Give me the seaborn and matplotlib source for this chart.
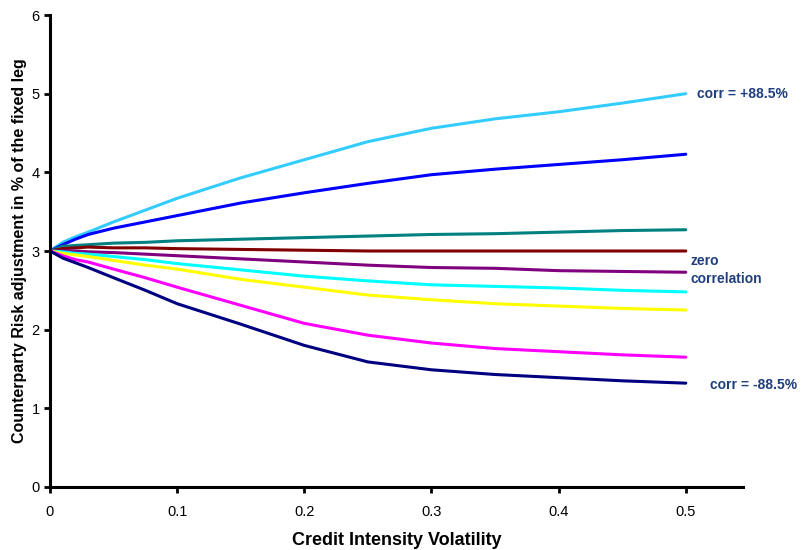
import numpy as np
import pandas as pd
import seaborn as sns
import matplotlib.pyplot as plt

# valeurs
vol = [0, 0.01, 0.02, 0.03, 0.05, 0.075, 0.1, 0.15, 0.2, 0.25, 0.3, 0.35, 0.4, 0.45, 0.5]

s1 = [3.0, 3.11, 3.18, 3.24, 3.37, 3.52, 3.67, 3.93, 4.16, 4.39, 4.56, 4.68, 4.77, 4.88, 5.00]
s2 = [3.0, 3.08, 3.15, 3.21, 3.29, 3.37, 3.45, 3.61, 3.74, 3.86, 3.97, 4.04, 4.10, 4.16, 4.23]
s3 = [3.0, 3.06, 3.07, 3.08, 3.10, 3.11, 3.13, 3.15, 3.17, 3.19, 3.21, 3.22, 3.24, 3.26, 3.27]
s4 = [3.0, 3.03, 3.04, 3.05, 3.04, 3.04, 3.03, 3.02, 3.01, 3.00, 3.00, 3.00, 3.00, 3.00, 3.00]
s5 = [3.0, 3.00, 3.00, 2.99, 2.98, 2.96, 2.94, 2.90, 2.86, 2.82, 2.79, 2.78, 2.75, 2.74, 2.73]
s6 = [3.0, 2.99, 2.97, 2.96, 2.93, 2.89, 2.84, 2.76, 2.68, 2.62, 2.57, 2.55, 2.53, 2.50, 2.48]
s7 = [3.0, 2.97, 2.95, 2.93, 2.88, 2.82, 2.77, 2.64, 2.54, 2.44, 2.38, 2.33, 2.30, 2.27, 2.25]
s8 = [3.0, 2.94, 2.89, 2.86, 2.77, 2.66, 2.54, 2.31, 2.08, 1.93, 1.83, 1.76, 1.72, 1.68, 1.65]
s9 = [3.0, 2.91, 2.85, 2.79, 2.66, 2.50, 2.33, 2.07, 1.80, 1.59, 1.49, 1.43, 1.39, 1.35, 1.32]

series = {"s1": s1, "s2": s2, "s3": s3, "s4": s4, "s5": s5,
          "s6": s6, "s7": s7, "s8": s8, "s9": s9}
couleurs = ["#33CCFF", "#0000FF", "#008080", "#800000", "#800080",
            "#00FFFF", "#FFFF00", "#FF00FF", "#000080"]

df = pd.DataFrame([(nom, x, y) for nom, ys in series.items() for x, y in zip(vol, ys)],
                  columns=["serie", "vol", "adj"])

sns.set_style("ticks")
plt.rcParams["font.family"] = ["Liberation Sans", "DejaVu Sans"]

fig = plt.figure(figsize=(8.04, 5.5), dpi=100)
ax = fig.add_axes([50 / 804, 1 - 487 / 550, 693 / 804, 472 / 550])

sns.lineplot(data=df, x="vol", y="adj", hue="serie", palette=couleurs,
             linewidth=2.2, legend=False, ax=ax)
for ln in ax.lines:
    ln.set_solid_joinstyle("round")

ax.set_xlim(0, 0.545)
ax.set_ylim(0, 6)
ax.set_xticks([0, 0.1, 0.2, 0.3, 0.4, 0.5])
ax.set_xticklabels(["0", "0.1", "0.2", "0.3", "0.4", "0.5"])
ax.set_yticks(range(7))
for s in ["top", "right"]:
    ax.spines[s].set_visible(False)
for s in ["left", "bottom"]:
    ax.spines[s].set_linewidth(2.2)
    ax.spines[s].set_color("black")
ax.tick_params(width=2, length=4, labelsize=10.5, colors="black")
ax.tick_params(axis="x", pad=9)

ax.set_xlabel("Credit Intensity Volatility", fontsize=13, fontweight="bold",
              labelpad=9, color="black")
ax.set_ylabel("Counterparty Risk adjustment in % of the fixed leg", fontsize=11.5,
              fontweight="bold", labelpad=3, color="black")

bleu = "#1F3F7F"
ax.text(0.509, 5.0, "corr = +88.5%", color=bleu, fontsize=10, fontweight="bold",
        va="center", ha="left", clip_on=False)
ax.text(0.504, 2.76, "zero\ncorrelation", color=bleu, fontsize=10, fontweight="bold",
        va="center", ha="left", linespacing=1.3, clip_on=False)
ax.text(0.519, 1.30, "corr = -88.5%", color=bleu, fontsize=10, fontweight="bold",
        va="center", ha="left", clip_on=False)

plt.savefig("out.png", dpi=100)
